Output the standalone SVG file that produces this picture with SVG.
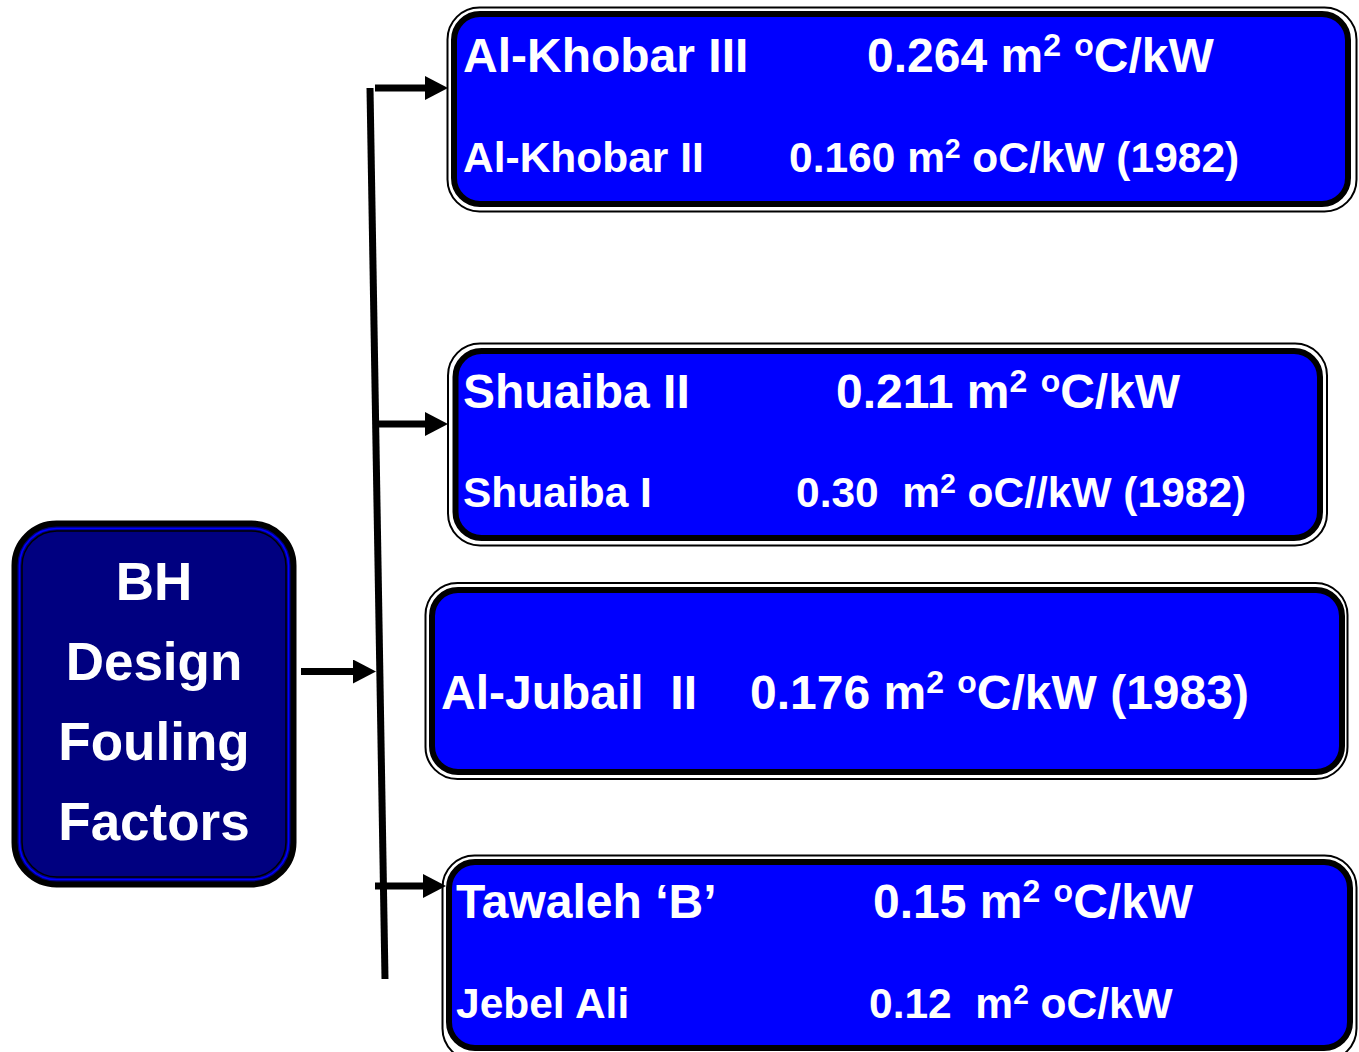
<svg xmlns="http://www.w3.org/2000/svg" width="1359" height="1052" viewBox="0 0 1359 1052">
<style>
.outer{fill:none;stroke:#000;stroke-width:2}
.inner{fill:#0000ff;stroke:#000;stroke-width:6}
.t{font-family:"Liberation Sans",Arial,sans-serif;font-weight:bold;fill:#fff}
.big{font-size:48px}
.small{font-size:42.5px}
.left{font-size:53px;text-anchor:middle}
.conn{stroke:#000;stroke-width:7;fill:none}
</style>
<defs>
<marker id="ah" markerUnits="userSpaceOnUse" markerWidth="24" markerHeight="26" refX="0" refY="12" orient="auto">
<path d="M0,0 L23,12 L0,24 Z" fill="#000"/>
</marker>
</defs>
<rect width="1359" height="1052" fill="#fff"/>
<g id="connectors">
<line class="conn" x1="370" y1="88" x2="385" y2="979"/>
<line class="conn" x1="375" y1="88" x2="425" y2="88" marker-end="url(#ah)"/>
<line class="conn" x1="378" y1="424" x2="425" y2="424" marker-end="url(#ah)"/>
<line class="conn" x1="375" y1="886" x2="423" y2="886" marker-end="url(#ah)"/>
<line class="conn" x1="301" y1="671.5" x2="353" y2="671.5" marker-end="url(#ah)"/>
</g>
<g id="bh">
<rect x="14.5" y="523.5" width="279" height="361" rx="42" fill="#000080" stroke="#000" stroke-width="6"/>
<rect x="19.5" y="528.5" width="269" height="351" rx="37" fill="none" stroke="#0000ff" stroke-width="1.5"/>
<rect x="22" y="531" width="264" height="346" rx="35" fill="none" stroke="#000" stroke-width="1.5"/>
<text class="t left" x="154" y="600">BH</text>
<text class="t left" x="154" y="680">Design</text>
<text class="t left" x="154" y="760">Fouling</text>
<text class="t left" x="154" y="840">Factors</text>
</g>
<g id="khobar">
<rect class="outer" x="447.5" y="7.5" width="909" height="204" rx="32"/>
<rect class="inner" x="454" y="14" width="894" height="190" rx="26"/>
<text class="t big" x="463" y="72">Al-Khobar III</text>
<text class="t big" x="867" y="72">0.264 m<tspan font-size="32" dy="-16">2</tspan><tspan dy="16"> </tspan><tspan font-size="32" dy="-16">o</tspan><tspan dy="16">C/kW</tspan></text>
<text class="t small" x="463" y="172">Al-Khobar II</text>
<text class="t small" x="789" y="172">0.160 m<tspan font-size="28" dy="-14">2</tspan><tspan dy="14"> oC/kW (1982)</tspan></text>
</g>
<g id="shuaiba">
<rect class="outer" x="448" y="343.5" width="879" height="202" rx="32"/>
<rect class="inner" x="455.5" y="351" width="864.5" height="187" rx="26"/>
<text class="t big" x="463" y="408">Shuaiba II</text>
<text class="t big" x="836" y="408">0.211 m<tspan font-size="32" dy="-16">2</tspan><tspan dy="16"> </tspan><tspan font-size="32" dy="-16">o</tspan><tspan dy="16">C/kW</tspan></text>
<text class="t small" x="463" y="507">Shuaiba I</text>
<text class="t small" x="796" y="507" xml:space="preserve">0.30  m<tspan font-size="28" dy="-14">2</tspan><tspan dy="14"> oC//kW (1982)</tspan></text>
</g>
<g id="jubail">
<rect class="outer" x="425.5" y="583" width="922" height="196" rx="32"/>
<rect class="inner" x="432" y="590" width="910" height="182" rx="26"/>
<text class="t big" x="441" y="709" xml:space="preserve">Al-Jubail  II</text>
<text class="t big" x="750" y="709">0.176 m<tspan font-size="32" dy="-16">2</tspan><tspan dy="16"> </tspan><tspan font-size="32" dy="-16">o</tspan><tspan dy="16">C/kW (1983)</tspan></text>
</g>
<g id="tawaleh">
<rect class="outer" x="442.5" y="855.5" width="914" height="205" rx="32"/>
<rect class="inner" x="449" y="862" width="901" height="186" rx="26"/>
<text class="t big" x="456" y="918">Tawaleh ‘B’</text>
<text class="t big" x="873" y="918">0.15 m<tspan font-size="32" dy="-16">2</tspan><tspan dy="16"> </tspan><tspan font-size="32" dy="-16">o</tspan><tspan dy="16">C/kW</tspan></text>
<text class="t small" x="456" y="1018">Jebel Ali</text>
<text class="t small" x="869" y="1018" xml:space="preserve">0.12  m<tspan font-size="28" dy="-14">2</tspan><tspan dy="14"> oC/kW</tspan></text>
</g>
</svg>
